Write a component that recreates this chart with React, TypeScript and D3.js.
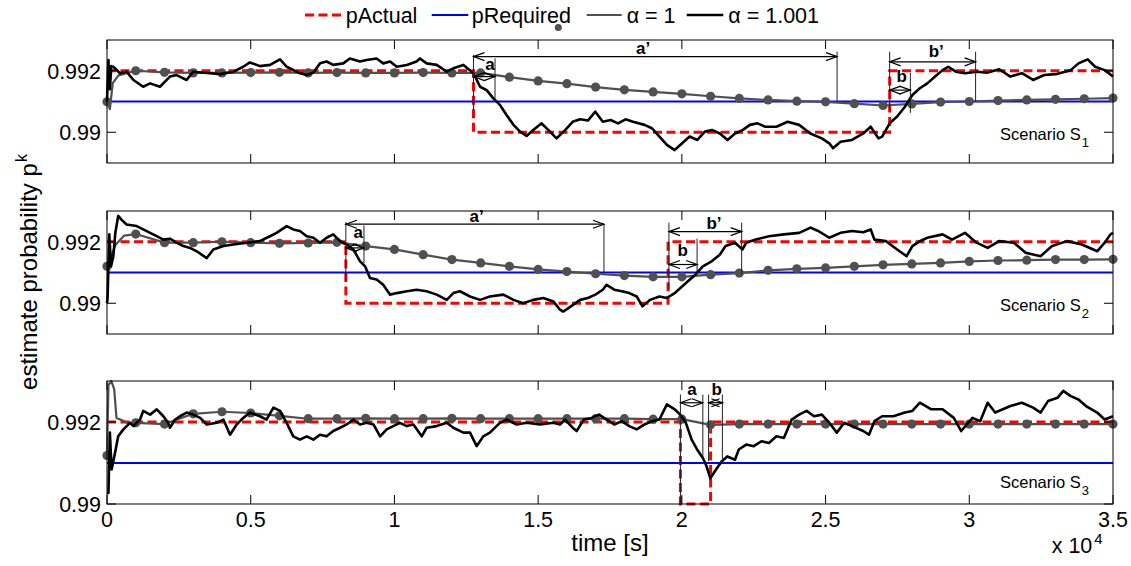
import React from "react";
import * as d3 from "d3";

const W = 1131;
const H = 566;
const FONT = "'Liberation Sans', Arial, Helvetica, sans-serif";

// time axis in seconds, labels shown as x 10^4
const timeTicks = [0, 5000, 10000, 15000, 20000, 25000, 30000, 35000];
const markerTimes = [
  0, 1000, 2000, 3000, 4000, 5000, 6000, 7000, 8000, 9000, 10000, 11000,
  12000, 13000, 14000, 15000, 16000, 17000, 18000, 19000, 20000, 21000,
  22000, 23000, 24000, 25000, 26000, 27000, 28000, 29000, 30000, 31000,
  32000, 33000, 34000, 35000,
];

const pRequired = 0.991;

// pActual (step after)
const actualS1: [number, number][] = [[0, 0.992], [12750, 0.99], [27230, 0.992], [35000, 0.992]];
const actualS2: [number, number][] = [[0, 0.992], [8310, 0.99], [19520, 0.992], [35000, 0.992]];
const actualS3: [number, number][] = [[0, 0.992], [19950, 0.99], [21000, 0.992], [35000, 0.992]];

// alpha = 1, value at each marker time
const alpha1S1 = [
  0.99099, 0.992, 0.99195, 0.99193, 0.99193, 0.99194, 0.99195, 0.99193, 0.99194,
  0.99193, 0.99193, 0.99194, 0.99193, 0.99193, 0.99179, 0.99167, 0.99158, 0.99147,
  0.99138, 0.99131, 0.99125, 0.99117, 0.9911, 0.99105, 0.99101, 0.99099, 0.99093,
  0.99087, 0.99092, 0.99098, 0.991, 0.99103, 0.99105, 0.99107, 0.99109, 0.99111,
];
const alpha1S2 = [
  0.9912, 0.99225, 0.99197, 0.99197, 0.992, 0.99197, 0.99195, 0.99196, 0.99198,
  0.99186, 0.99175, 0.99158, 0.99142, 0.99131, 0.9912, 0.9911, 0.99103, 0.99096,
  0.9909, 0.99086, 0.99086, 0.99093, 0.99098, 0.99107, 0.99112, 0.99115, 0.9912,
  0.99125, 0.99128, 0.99131, 0.99136, 0.99139, 0.9914, 0.99142, 0.99142, 0.99143,
];
const alpha1S3 = [
  0.99118, 0.99198, 0.99195, 0.9922, 0.99225, 0.99222, 0.99215, 0.99208, 0.99208,
  0.99209, 0.99208, 0.99208, 0.99209, 0.99208, 0.99208, 0.99208, 0.99208, 0.99208,
  0.99208, 0.99207, 0.99207, 0.99193, 0.99195, 0.99195, 0.99195, 0.99195, 0.99195,
  0.99195, 0.99195, 0.99195, 0.99195, 0.99195, 0.99195, 0.99195, 0.99195, 0.99195,
];
// start-up transient of alpha = 1 between the first markers
const alpha1StartS1: [number, number][] = [[100, 0.99075], [200, 0.9916], [400, 0.99185]];
const alpha1StartS2: [number, number][] = [[300, 0.9919], [600, 0.9922]];
const alpha1StartS3: [number, number][] = [[50, 0.9929], [150, 0.993], [250, 0.9928], [330, 0.9921], [500, 0.99205], [700, 0.99198]];

// alpha = 1.001
const alpha1001S1: [number, number][] = [
  [0, 0.991], [50, 0.99235], [100, 0.9914], [150, 0.99215], [220, 0.99213], [450, 0.99192],
  [680, 0.99197], [920, 0.9917], [1260, 0.99148], [1500, 0.99159], [1840, 0.99148], [2190, 0.99181],
  [2420, 0.99186], [2770, 0.9917], [3000, 0.99197], [3580, 0.99192], [3930, 0.99189], [4400, 0.99197],
  [4740, 0.99213], [4970, 0.99227], [5320, 0.99215], [5670, 0.99219], [6020, 0.99237], [6250, 0.99213],
  [6710, 0.99192], [6950, 0.99186], [7180, 0.99194], [7410, 0.99224], [7640, 0.9923], [7870, 0.99219],
  [8220, 0.99224], [8450, 0.9924], [8800, 0.9923], [9030, 0.99235], [9380, 0.9924], [9610, 0.99224],
  [9850, 0.9923], [10080, 0.99213], [10430, 0.99219], [10770, 0.9923], [10890, 0.9924], [11120, 0.99224],
  [11470, 0.99219], [11820, 0.99197], [12050, 0.99208], [12400, 0.99219], [12750, 0.99192], [12980, 0.99148],
  [13210, 0.99137], [13440, 0.9911], [13670, 0.99089], [13900, 0.99056], [14140, 0.99024], [14370, 0.99002],
  [14600, 0.98988], [14830, 0.99007], [15120, 0.99029], [15410, 0.99002], [15640, 0.9898], [15940, 0.99007],
  [16200, 0.99034], [16460, 0.99042], [16730, 0.99038], [16990, 0.99067], [17250, 0.99034], [17520, 0.9904],
  [17780, 0.99029], [18040, 0.99042], [18300, 0.99034], [18700, 0.99024], [18960, 0.99013], [19220, 0.98986],
  [19480, 0.98959], [19750, 0.98942], [20010, 0.98964], [20270, 0.98986], [20540, 0.98975], [20800, 0.99002],
  [21060, 0.99007], [21320, 0.98996], [21590, 0.98975], [21850, 0.98996], [22110, 0.99007], [22370, 0.99024],
  [22630, 0.99029], [22900, 0.99018], [23290, 0.99018], [23680, 0.99034], [24080, 0.99024], [24470, 0.98996],
  [24870, 0.9898], [25130, 0.98964], [25260, 0.98948], [25520, 0.98969], [25920, 0.98975], [26310, 0.98996],
  [26570, 0.99018], [26840, 0.9898], [26970, 0.98986], [27230, 0.99029], [27490, 0.99051], [27760, 0.99083],
  [28020, 0.99121], [28280, 0.99143], [28540, 0.99159], [28810, 0.99181], [29070, 0.99202], [29270, 0.99213],
  [29530, 0.99197], [29850, 0.99192], [30250, 0.99197], [30640, 0.99194], [31040, 0.99205], [31430, 0.99181],
  [31830, 0.99192], [32220, 0.9917], [32610, 0.99186], [33010, 0.99189], [33530, 0.99202], [33800, 0.99224],
  [34120, 0.99237], [34380, 0.99213], [34710, 0.99202], [35000, 0.99181],
];
const alpha1001S2: [number, number][] = [
  [0, 0.99], [20, 0.99017], [80, 0.99224], [140, 0.9912], [220, 0.99153], [290, 0.99229],
  [390, 0.99284], [510, 0.99271], [680, 0.99256], [1030, 0.99251], [1260, 0.9924], [1500, 0.99229],
  [1730, 0.99218], [1960, 0.99207], [2190, 0.9921], [2420, 0.99197], [2660, 0.99186], [2890, 0.9918],
  [3120, 0.99169], [3470, 0.99147], [3700, 0.99175], [4050, 0.99186], [4400, 0.99191], [4860, 0.99197],
  [5320, 0.99202], [5670, 0.99218], [5900, 0.99229], [6250, 0.99251], [6480, 0.9924], [6710, 0.99235],
  [6950, 0.99218], [7180, 0.99213], [7410, 0.99197], [7640, 0.99213], [7870, 0.99224], [8110, 0.99202],
  [8340, 0.99191], [8570, 0.99175], [8800, 0.99137], [8980, 0.9912], [9150, 0.99082], [9380, 0.99077],
  [9610, 0.9906], [9850, 0.99028], [10080, 0.99033], [10430, 0.99039], [10770, 0.99044], [11120, 0.99039],
  [11470, 0.99028], [11820, 0.99011], [12050, 0.99033], [12280, 0.99039], [12630, 0.99022], [12980, 0.99011],
  [13320, 0.99022], [13790, 0.99028], [14140, 0.99011], [14480, 0.99], [14830, 0.99011], [15180, 0.99017],
  [15530, 0.99006], [15760, 0.98979], [15870, 0.98973], [16140, 0.9899], [16460, 0.99011], [16730, 0.99017],
  [16990, 0.99028], [17250, 0.99044], [17380, 0.9906], [17650, 0.99044], [17910, 0.99039], [18170, 0.99033],
  [18430, 0.99022], [18630, 0.9899], [18890, 0.99011], [19220, 0.99022], [19480, 0.99017], [19750, 0.99033],
  [19940, 0.99049], [20200, 0.99071], [20470, 0.99093], [20730, 0.9912], [21050, 0.99137], [21320, 0.99158],
  [21520, 0.99186], [21850, 0.99197], [22110, 0.99175], [22240, 0.99197], [22570, 0.99207], [23030, 0.99218],
  [23550, 0.99224], [24080, 0.99229], [24480, 0.99246], [24740, 0.99235], [25130, 0.99213], [25520, 0.99229],
  [25920, 0.99235], [26310, 0.99231], [26570, 0.9924], [26700, 0.99207], [27100, 0.99202], [27490, 0.99175],
  [27820, 0.99153], [28020, 0.99186], [28280, 0.99202], [28540, 0.99213], [29070, 0.99224], [29400, 0.99207],
  [29850, 0.99229], [30250, 0.99197], [30640, 0.9918], [31040, 0.99202], [31550, 0.99197], [31960, 0.99164],
  [32480, 0.99153], [32880, 0.99186], [33400, 0.99202], [33920, 0.99191], [34450, 0.99169], [34710, 0.99197],
  [34910, 0.99224], [35000, 0.99229],
];
const alpha1001S3: [number, number][] = [
  [0, 0.99027], [50, 0.99027], [100, 0.99174], [160, 0.99084], [280, 0.99125], [390, 0.99165],
  [570, 0.99182], [800, 0.99198], [920, 0.9919], [1150, 0.99206], [1260, 0.99227], [1500, 0.99218],
  [1730, 0.99231], [1960, 0.99214], [2130, 0.99198], [2190, 0.99186], [2370, 0.99206], [2540, 0.99214],
  [2770, 0.99223], [3000, 0.99218], [3240, 0.9921], [3470, 0.99194], [3820, 0.99198], [4050, 0.99206],
  [4280, 0.99169], [4510, 0.99194], [4740, 0.9921], [4970, 0.99223], [5320, 0.99214], [5550, 0.99206],
  [5790, 0.99235], [6020, 0.99227], [6250, 0.99198], [6480, 0.99165], [6710, 0.99157], [6950, 0.99165],
  [7180, 0.99157], [7410, 0.99169], [7640, 0.99165], [7870, 0.99178], [8110, 0.99186], [8340, 0.99194],
  [8570, 0.99206], [8800, 0.99194], [9030, 0.99198], [9270, 0.99194], [9500, 0.99165], [9730, 0.99182],
  [9960, 0.9919], [10190, 0.99198], [10430, 0.9919], [10660, 0.99194], [10950, 0.99165], [11120, 0.99186],
  [11470, 0.9919], [11820, 0.99198], [12050, 0.99186], [12400, 0.99174], [12630, 0.99174], [12860, 0.99141],
  [13090, 0.99165], [13320, 0.99174], [13670, 0.99198], [13900, 0.99206], [14250, 0.99194], [14600, 0.99198],
  [15060, 0.99194], [15530, 0.99198], [15760, 0.99194], [15940, 0.99206], [16200, 0.99186], [16340, 0.99178],
  [16590, 0.99206], [16860, 0.9921], [17120, 0.99218], [17380, 0.99206], [17650, 0.99194], [17910, 0.99202],
  [18170, 0.9919], [18430, 0.99182], [18700, 0.99194], [18960, 0.99202], [19220, 0.99206], [19480, 0.99243],
  [19750, 0.99231], [19940, 0.99218], [20140, 0.99198], [20340, 0.99157], [20530, 0.99133], [20730, 0.99112],
  [20860, 0.99092], [20990, 0.99063], [21190, 0.99084], [21390, 0.99104], [21580, 0.99116], [21850, 0.99108],
  [21980, 0.99133], [22240, 0.99145], [22500, 0.99141], [22770, 0.99153], [23030, 0.99149], [23290, 0.99165],
  [23550, 0.99161], [23820, 0.99206], [24080, 0.99218], [24340, 0.99227], [24600, 0.99214], [24870, 0.99218],
  [25130, 0.99198], [25390, 0.99174], [25650, 0.99198], [25920, 0.9919], [26310, 0.99178], [26510, 0.99169],
  [26700, 0.99202], [26970, 0.99214], [27360, 0.99214], [27760, 0.99223], [28020, 0.99227], [28280, 0.99247],
  [28680, 0.99231], [29070, 0.99231], [29460, 0.9921], [29720, 0.99178], [30110, 0.9921], [30380, 0.99202],
  [30640, 0.99247], [30900, 0.99223], [31170, 0.99231], [31430, 0.99239], [31830, 0.99247], [32220, 0.99235],
  [32480, 0.99223], [32740, 0.99251], [33070, 0.99259], [33270, 0.99276], [33530, 0.99263], [33800, 0.99255],
  [34060, 0.99239], [34450, 0.99223], [34710, 0.99206], [35000, 0.99214],
];

// annotation marks: [time, pTop, pBottom] / [t0, t1, p] / [text, t, p]
const guidesS1 = [[12750, 0.99251, 0.99046], [25400, 0.99262, 0.991], [13500, 0.9924, 0.991], [27230, 0.99262, 0.99072], [30220, 0.99262, 0.991], [27950, 0.99193, 0.99063]];
const arrowsS1 = [[12750, 25400, 0.99246], [12750, 13500, 0.99181], [27230, 30220, 0.99229], [27230, 27950, 0.99137]];
const notesS1: [string, number, number][] = [["a\u2019", 18650, 0.99253], ["a", 13325, 0.99202], ["b\u2019", 28850, 0.99245], ["b", 27650, 0.99164]];

const guidesS2 = [[8310, 0.99264, 0.99071], [17290, 0.99257, 0.99096], [8940, 0.99253, 0.99131], [19550, 0.99262, 0.99044], [22080, 0.99262, 0.99095], [20530, 0.9921, 0.99093]];
const arrowsS2 = [[8310, 17290, 0.99257], [8310, 8940, 0.9918], [19550, 22080, 0.99233], [19550, 20530, 0.99126]];
const notesS2: [string, number, number][] = [["a\u2019", 12860, 0.99265], ["a", 8740, 0.99211], ["b\u2019", 21120, 0.99242], ["b", 20030, 0.99153]];

const guidesS3 = [[19950, 0.99267, 0.99002], [20730, 0.99267, 0.99108], [20930, 0.99267, 0.99104], [21410, 0.99267, 0.99104]];
const arrowsS3 = [[19950, 20730, 0.99247], [20930, 21410, 0.99247]];
const notesS3: [string, number, number][] = [["a", 20350, 0.99265], ["b", 21210, 0.99265]];

const panels = [
  { top: 40, domain: [0.989, 0.993], yTicks: [0.99, 0.992], actual: actualS1, a1: alpha1S1, a1Start: alpha1StartS1, a1001: alpha1001S1, guides: guidesS1, arrows: arrowsS1, notes: notesS1, sub: "1", scenY: 140 },
  { top: 211, domain: [0.989, 0.993], yTicks: [0.99, 0.992], actual: actualS2, a1: alpha1S2, a1Start: alpha1StartS2, a1001: alpha1001S2, guides: guidesS2, arrows: arrowsS2, notes: notesS2, sub: "2", scenY: 311 },
  { top: 381, domain: [0.99, 0.993], yTicks: [0.99, 0.992], actual: actualS3, a1: alpha1S3, a1Start: alpha1StartS3, a1001: alpha1001S3, guides: guidesS3, arrows: arrowsS3, notes: notesS3, sub: "3", scenY: 488 },
];

const PH = 123;
const LEFT = 107;
const RIGHT = 1113;
const TICK = 9;
const GRAY = "#505050";

const x = d3.scaleLinear().domain([0, 35000]).range([LEFT, RIGHT]);

function Panel({ p, last }: { p: any; last: boolean }) {
  const y = d3.scaleLinear().domain(p.domain).range([p.top + PH, p.top]);
  const line = d3.line<[number, number]>().x((d) => x(d[0])).y((d) => y(d[1]));
  const step = d3.line<[number, number]>().x((d) => x(d[0])).y((d) => y(d[1])).curve(d3.curveStepAfter);

  const markers: [number, number][] = markerTimes.map((t, i) => [t, p.a1[i]]);
  const grayPts = [...markers, ...p.a1Start].sort((a, b) => a[0] - b[0]);
  const head = 11;
  const hw = 4;

  return (
    <g>
      <path d={step(p.actual) || ""} fill="none" stroke="#ff0000" strokeWidth={3} strokeDasharray="9,4.5" />
      <path d={line([[0, pRequired], [35000, pRequired]]) || ""} fill="none" stroke="#0000ff" strokeWidth={2.2} />
      <path d={line(grayPts) || ""} fill="none" stroke={GRAY} strokeWidth={2.2} strokeLinejoin="round" />
      {markers.map((d, i) => (
        <circle key={i} cx={x(d[0])} cy={y(d[1])} r={4.6} fill={GRAY} />
      ))}
      <path d={line(p.a1001) || ""} fill="none" stroke="#000" strokeWidth={2.6} strokeLinejoin="round" />

      {p.guides.map((g: number[], i: number) => (
        <line key={"g" + i} x1={x(g[0])} x2={x(g[0])} y1={y(g[1])} y2={y(g[2])} stroke="#222" strokeWidth={1} />
      ))}
      {p.arrows.map((a: number[], i: number) => {
        const x0 = x(a[0]);
        const x1 = x(a[1]);
        const yy = y(a[2]);
        return (
          <g key={"a" + i} fill="none" stroke="#000" strokeWidth={1.2}>
            <line x1={x0} x2={x1} y1={yy} y2={yy} />
            <polyline points={`${x0 + head},${yy - hw} ${x0},${yy} ${x0 + head},${yy + hw}`} />
            <polyline points={`${x1 - head},${yy - hw} ${x1},${yy} ${x1 - head},${yy + hw}`} />
          </g>
        );
      })}
      {p.notes.map((n: [string, number, number], i: number) => (
        <text key={"n" + i} x={x(n[1])} y={y(n[2])} textAnchor="middle" fontWeight="bold" fontSize={17} fontFamily={FONT}>
          {n[0]}
        </text>
      ))}

      <rect x={LEFT} y={p.top} width={RIGHT - LEFT} height={PH} fill="none" stroke="#000" strokeWidth={1} />
      {timeTicks.map((t) => (
        <g key={"xt" + t} stroke="#000" strokeWidth={1}>
          <line x1={x(t)} x2={x(t)} y1={p.top + PH} y2={p.top + PH - TICK} />
          <line x1={x(t)} x2={x(t)} y1={p.top} y2={p.top + TICK} />
        </g>
      ))}
      {p.yTicks.map((v: number) => (
        <g key={"yt" + v}>
          <line x1={LEFT} x2={LEFT + TICK} y1={y(v)} y2={y(v)} stroke="#000" />
          <line x1={RIGHT} x2={RIGHT - TICK} y1={y(v)} y2={y(v)} stroke="#000" />
          <text x={LEFT - 6} y={y(v) + 8} textAnchor="end" fontSize={21.5} fontFamily={FONT}>
            {d3.format("")(v)}
          </text>
        </g>
      ))}
      {last &&
        timeTicks.map((t) => (
          <text key={"xl" + t} x={x(t)} y={p.top + PH + 23} textAnchor="middle" fontSize={21.5} fontFamily={FONT}>
            {d3.format("")(t / 10000)}
          </text>
        ))}
      <text x={1000} y={p.scenY} fontSize={16.5} fontFamily={FONT}>
        Scenario S
        <tspan dx={1} dy={7} fontSize={13}>{p.sub}</tspan>
      </text>
    </g>
  );
}

export default function App() {
  const midY = (40 + 381 + PH) / 2;
  return (
    <div style={{ position: "absolute", left: 0, top: 0 }}>
      <svg width={W} height={H} style={{ display: "block", background: "#fff" }}>
        {/* legend */}
        <g fontFamily={FONT} fontSize={21.5}>
          <line x1={305} x2={342} y1={15} y2={15} stroke="#ff0000" strokeWidth={3} strokeDasharray="9,4.5" />
          <text x={345.7} y={23}>pActual</text>
          <line x1={431.7} x2={468.3} y1={15} y2={15} stroke="#0000ff" strokeWidth={2.2} />
          <text x={471.7} y={23}>pRequired</text>
          <circle cx={558.3} cy={27.5} r={3.5} fill={GRAY} />
          <line x1={586.7} x2={621.7} y1={15} y2={15} stroke={GRAY} strokeWidth={2.2} />
          <text x={626.7} y={23}>α = 1</text>
          <line x1={686.7} x2={723.3} y1={15} y2={15} stroke="#000" strokeWidth={2.6} />
          <text x={728.3} y={23}>α = 1.001</text>
        </g>

        {panels.map((p, i) => (
          <Panel key={i} p={p} last={i === panels.length - 1} />
        ))}

        <text x={(LEFT + RIGHT) / 2} y={551} textAnchor="middle" fontSize={24} fontFamily={FONT}>
          time [s]
        </text>
        <text x={1051.7} y={553} fontSize={21.5} fontFamily={FONT}>
          x 10
          <tspan dx={2} dy={-9} fontSize={15}>4</tspan>
        </text>
        <text transform={`translate(37,${midY}) rotate(-90)`} textAnchor="middle" fontSize={24} fontFamily={FONT}>
          estimate probability p
          <tspan dx={1} dy={-10} fontSize={16}>k</tspan>
        </text>
      </svg>
    </div>
  );
}
